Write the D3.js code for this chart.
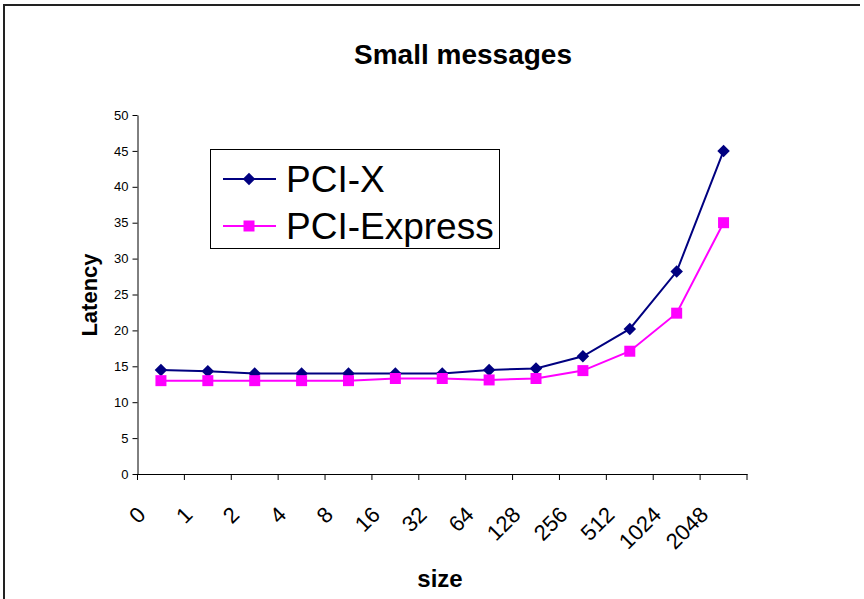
<!DOCTYPE html>
<html>
<head>
<meta charset="utf-8">
<script src="https://cdn.jsdelivr.net/npm/d3@7/dist/d3.min.js"></script>
<style>
  html, body { margin: 0; padding: 0; background: #fff; }
  svg { display: block; font-family: "Liberation Sans", Arial, sans-serif; }
</style>
</head>
<body>
<div id="chart"></div>
<script>
// Latency vs message size, two interconnects
const sizes = ["0", "1", "2", "4", "8", "16", "32", "64", "128", "256", "512", "1024", "2048"]
const pciX = [14.5, 14.3, 14.0, 14.0, 14.0, 14.0, 14.0, 14.5, 14.7, 16.4, 20.2, 28.2, 45.0]
const pciExpress = [13.0, 13.0, 13.0, 13.0, 13.0, 13.3, 13.3, 13.1, 13.3, 14.4, 17.1, 22.4, 35.0]
const yTicks = [0, 5, 10, 15, 20, 25, 30, 35, 40, 45, 50]
const seriesNames = ["PCI-X", "PCI-Express"]

const width = 864
const height = 599

const svg = d3.select("#chart")
  .append("svg")
  .attr("width", width)
  .attr("height", height)

// outer frame (only left and top edges are visible)
svg.append("path")
  .attr("d", "M4,600 L4,5 L860,5")
  .attr("fill", "none")
  .attr("stroke", "#222")
  .attr("stroke-width", 2)

// Scales
const x = d3.scaleBand()
  .domain(sizes)
  .range([137.5, 747])
  .padding(0)

const y = d3.scaleLinear()
  .domain([0, 50])
  .range([474, 115])

// Title
svg.append("text")
  .attr("x", 463)
  .attr("y", 64)
  .attr("text-anchor", "middle")
  .style("font-size", "28px")
  .style("font-weight", "bold")
  .text("Small messages")

// Y axis
const yAxis = svg.append("g")
  .attr("transform", `translate(${x.range()[0]},0)`)
  .call(d3.axisLeft(y).tickValues(yTicks).tickSize(5).tickPadding(4).tickSizeOuter(0))
yAxis.selectAll("text").style("font-size", "13px").attr("fill", "#000")
yAxis.selectAll("line, path").attr("stroke", "#000")

// X axis line with ticks at category boundaries
const xAxis = svg.append("g")
  .attr("transform", `translate(0,${y(0)})`)
  .call(d3.axisBottom(x).tickSize(0).tickFormat(""))
xAxis.select(".domain").attr("stroke", "#000")
xAxis.selectAll(".tick").remove()

const bounds = sizes.map(d => x(d)).concat([x.range()[1]])
svg.append("g")
  .selectAll("line")
  .data(bounds)
  .join("line")
  .attr("x1", d => d)
  .attr("x2", d => d)
  .attr("y1", y(0))
  .attr("y2", y(0) + 6)
  .attr("stroke", "#000")

// X tick labels, rotated
svg.append("g")
  .selectAll("text")
  .data(sizes)
  .join("text")
  .attr("text-anchor", "end")
  .attr("transform", d => `translate(${x(d) + x.bandwidth() / 2 - 14},516) rotate(-45)`)
  .style("font-size", "22px")
  .text(d => d)

// Axis titles
svg.append("text")
  .attr("transform", `translate(97,295) rotate(-90)`)
  .attr("text-anchor", "middle")
  .style("font-size", "22px")
  .style("font-weight", "bold")
  .text("Latency")

svg.append("text")
  .attr("x", 440)
  .attr("y", 587)
  .attr("text-anchor", "middle")
  .style("font-size", "24px")
  .style("font-weight", "bold")
  .text("size")

// Series
const cx = d => x(d) + x.bandwidth() / 2
const series = [
  { name: seriesNames[0], values: pciX, color: "#000080", symbol: "diamond" },
  { name: seriesNames[1], values: pciExpress, color: "#ff00ff", symbol: "square" }
]

const line = d3.line()
  .x((d, i) => cx(sizes[i]))
  .y(d => y(d))

const diamond = d3.symbol().type(d3.symbolSquare).size(78)
const square = d3.symbol().type(d3.symbolSquare).size(121)

series.forEach(s => {
  svg.append("path")
    .datum(s.values)
    .attr("fill", "none")
    .attr("stroke", s.color)
    .attr("stroke-width", 2)
    .attr("d", line)

  svg.append("g")
    .selectAll("path")
    .data(s.values)
    .join("path")
    .attr("d", s.symbol === "diamond" ? diamond() : square())
    .attr("transform", (d, i) => `translate(${cx(sizes[i])},${y(d)})` + (s.symbol === "diamond" ? " rotate(45)" : ""))
    .attr("fill", s.color)
})

// Legend
const legend = svg.append("g")
legend.append("rect")
  .attr("x", 210.5)
  .attr("y", 149.5)
  .attr("width", 289)
  .attr("height", 99)
  .attr("fill", "#fff")
  .attr("stroke", "#000")
  .attr("stroke-width", 1)

series.forEach((s, i) => {
  const ly = 179 + i * 47
  legend.append("line")
    .attr("x1", 223)
    .attr("x2", 276)
    .attr("y1", ly)
    .attr("y2", ly)
    .attr("stroke", s.color)
    .attr("stroke-width", 2)
  legend.append("path")
    .attr("d", s.symbol === "diamond" ? diamond() : square())
    .attr("transform", `translate(249,${ly})` + (s.symbol === "diamond" ? " rotate(45)" : ""))
    .attr("fill", s.color)
  legend.append("text")
    .attr("x", 286)
    .attr("y", ly + 13)
    .style("font-size", "37px")
    .text(s.name)
})
</script>
</body>
</html>
